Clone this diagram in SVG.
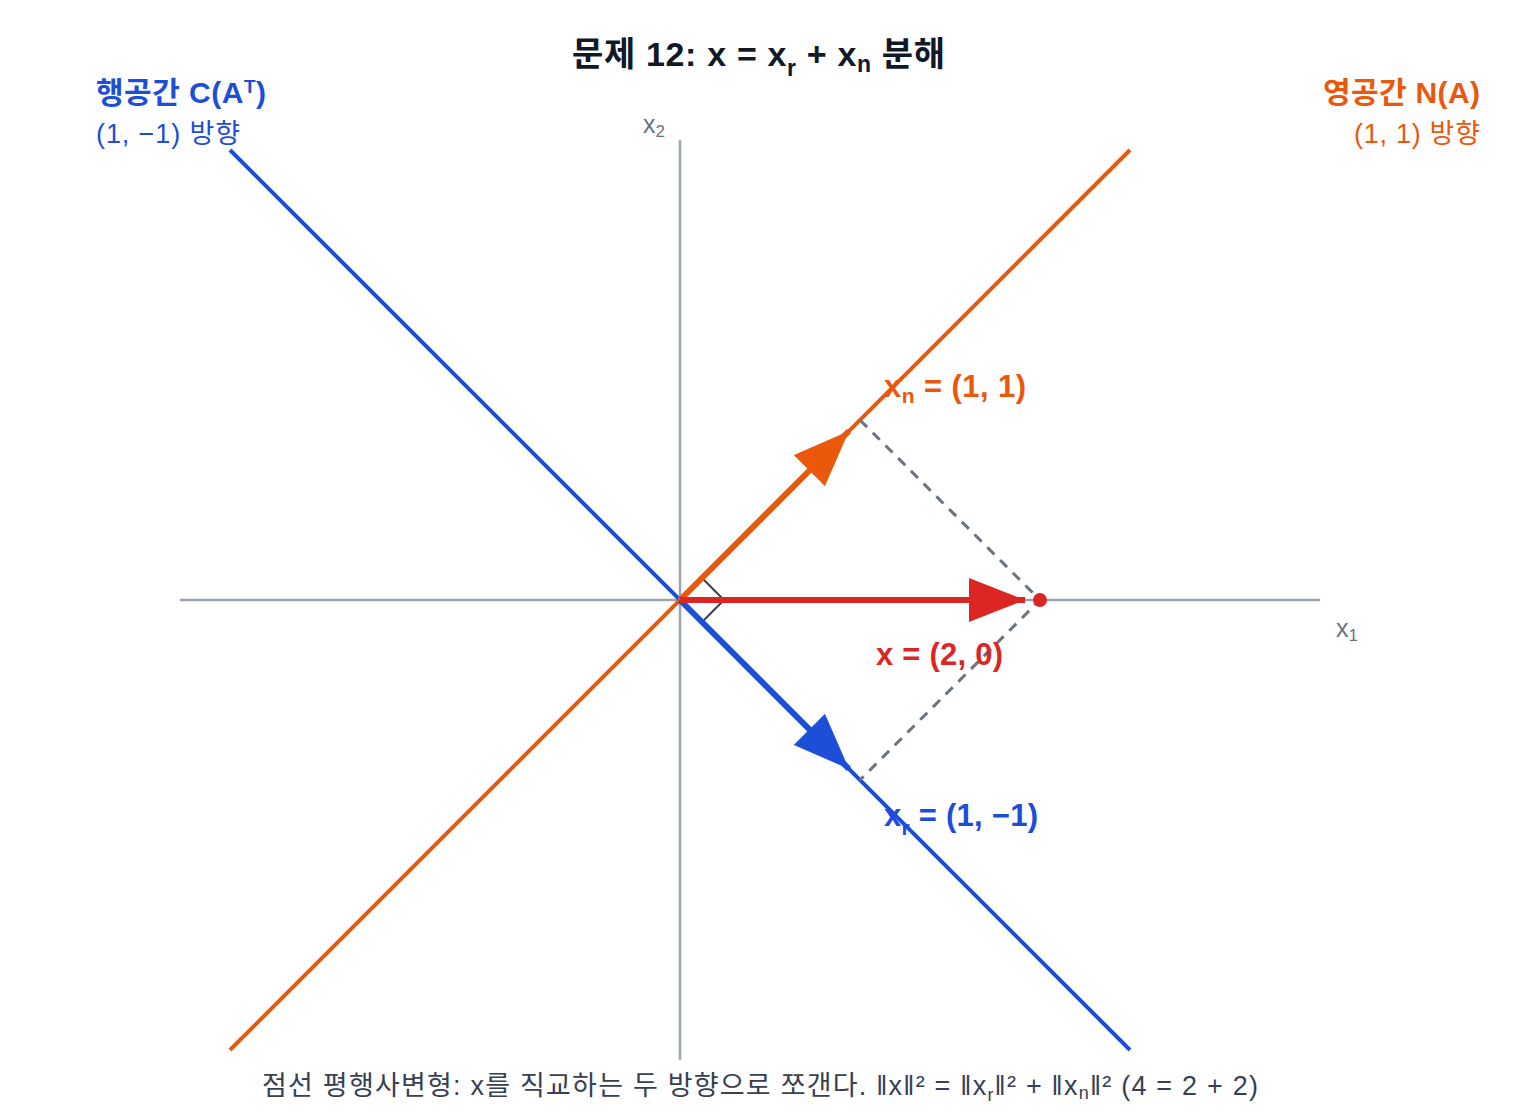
<svg xmlns="http://www.w3.org/2000/svg" width="1520" height="1120" viewBox="0 0 1520 1120">
<style>
text{font-family:"Liberation Sans","Noto Sans CJK KR",sans-serif;}
.title{font-size:34px;font-weight:bold;fill:#111827;}
.blue{fill:#1d4ed8;}
.orange{fill:#ea580c;}
.red{fill:#dc2626;}
.head{font-size:30px;font-weight:bold;}
.sub{font-size:27px;}
.vlab{font-size:31px;font-weight:bold;}
.ax{font-size:25px;fill:#6b7280;}
.axis{stroke:#9ca3af;stroke-width:2.5;fill:none;}
.dash{stroke:#6b7280;stroke-width:3;stroke-dasharray:10,8;fill:none;}
.cap{font-size:27px;fill:#374151;}
</style>
<defs>
<marker id="ahR" markerUnits="userSpaceOnUse" viewBox="0 0 56 44" refX="56" refY="22" markerWidth="56" markerHeight="44" orient="auto"><path d="M0,0 L56,22 L0,44 Z" fill="#dc2626"/></marker>
<marker id="ahO" markerUnits="userSpaceOnUse" viewBox="0 0 56 44" refX="56" refY="22" markerWidth="56" markerHeight="44" orient="auto"><path d="M0,0 L56,22 L0,44 Z" fill="#ea580c"/></marker>
<marker id="ahB" markerUnits="userSpaceOnUse" viewBox="0 0 56 44" refX="56" refY="22" markerWidth="56" markerHeight="44" orient="auto"><path d="M0,0 L56,22 L0,44 Z" fill="#1d4ed8"/></marker>
</defs>
<rect width="1520" height="1120" fill="#ffffff"/>
<text class="title" x="572" y="66" textLength="373" lengthAdjust="spacing">문제 12: x = x<tspan font-size="23" dy="10">r</tspan><tspan dy="-10"> + x</tspan><tspan font-size="23" dy="6">n</tspan><tspan dy="-6"> 분해</tspan></text>
<g id="axes">
<line class="axis" x1="180" y1="600" x2="1320" y2="600"/>
<line class="axis" x1="680" y1="140" x2="680" y2="1060"/>
<text class="ax" x="643" y="133">x<tspan font-size="17" dy="4">2</tspan></text>
<text class="ax" x="1336" y="637">x<tspan font-size="17" dy="4">1</tspan></text>
</g>
<g id="rowspace">
<line x1="230" y1="150" x2="1130" y2="1050" stroke="#1d4ed8" stroke-width="4"/>
<text class="head blue" x="96" y="103" textLength="170" lengthAdjust="spacing">행공간 C(A<tspan font-size="19" dy="-10">T</tspan><tspan dy="10">)</tspan></text>
<text class="sub blue" x="96" y="143" textLength="144" lengthAdjust="spacing">(1, −1) 방향</text>
</g>
<g id="nullspace">
<line x1="230" y1="1050" x2="1130" y2="150" stroke="#ea580c" stroke-width="4"/>
<text class="head orange" x="1323" y="103" textLength="157" lengthAdjust="spacing">영공간 N(A)</text>
<text class="sub orange" x="1354" y="143" textLength="126" lengthAdjust="spacing">(1, 1) 방향</text>
</g>
<g id="connectors">
<path class="dash" d="M860,420 L1040,600 L860,780"/>
<path d="M702,578 L724,600 L702,622" fill="none" stroke="#374151" stroke-width="2"/>
<line x1="680" y1="600" x2="849" y2="431" stroke="#ea580c" stroke-width="6" marker-end="url(#ahO)"/>
<line x1="680" y1="600" x2="849" y2="769" stroke="#1d4ed8" stroke-width="6" marker-end="url(#ahB)"/>
<line x1="680" y1="600" x2="1025" y2="600" stroke="#dc2626" stroke-width="6" marker-end="url(#ahR)"/>
</g>
<g id="point-x">
<circle cx="1040" cy="600" r="7" fill="#dc2626"/>
<text class="vlab red" x="876" y="665" textLength="127" lengthAdjust="spacing">x = (2, 0)</text>
</g>
<g id="xn">
<text class="vlab orange" x="884" y="397" textLength="142" lengthAdjust="spacing">x<tspan font-size="21" dy="6">n</tspan><tspan dy="-6"> = (1, 1)</tspan></text>
</g>
<g id="xr">
<text class="vlab blue" x="884" y="826" textLength="154" lengthAdjust="spacing">x<tspan font-size="21" dy="9">r</tspan><tspan dy="-9"> = (1, −1)</tspan></text>
</g>
<g id="caption">
<text class="cap" x="262" y="1095" textLength="996" lengthAdjust="spacing">점선 평행사변형: x를 직교하는 두 방향으로 쪼갠다. ‖x‖² = ‖x<tspan font-size="18" dy="6">r</tspan><tspan dy="-6">‖² + ‖x</tspan><tspan font-size="18" dy="4">n</tspan><tspan dy="-4">‖² (4 = 2 + 2)</tspan></text>
</g>
</svg>
